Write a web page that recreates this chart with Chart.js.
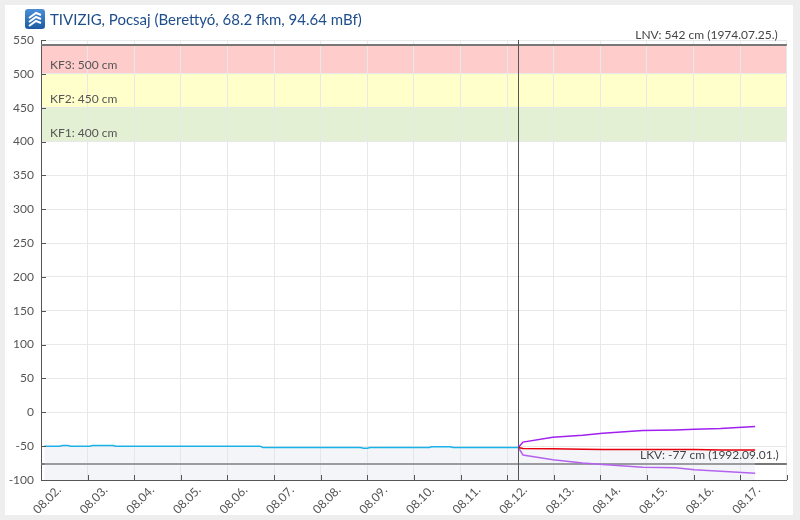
<!DOCTYPE html>
<html>
<head>
<meta charset="utf-8">
<script src="https://cdn.jsdelivr.net/npm/chart.js@4.4.1/dist/chart.umd.min.js"></script>
<style>
  html, body { margin: 0; padding: 0; background: #eeeeee; }
  #card { position: absolute; left: 5px; top: 5px; width: 788px; height: 510px; background: #fff; }
  #wrap { position: absolute; left: 0; top: 0; width: 800px; height: 520px; }
  #title { position: absolute; left: 25px; top: 9px; height: 20px; display: flex; align-items: center;
           font: 15px Lato, sans-serif; color: #1f4e8c; white-space: nowrap; }
  #title svg { margin-right: 5px; }
</style>
</head>
<body>
<div id="card"></div>
<div id="wrap"><canvas id="chart"></canvas></div>
<div id="title">
  <svg width="20" height="20" viewBox="0 0 20 20">
    <defs><linearGradient id="g" x1="0" y1="0" x2="0" y2="1">
      <stop offset="0" stop-color="#4a8fd6"/><stop offset="1" stop-color="#1d5aa3"/></linearGradient></defs>
    <rect width="20" height="20" rx="3" fill="url(#g)"/>
    <path d="M4 9 L11 4 L16 6" stroke="#fff" stroke-width="2" fill="none"/>
    <path d="M4 13 L11 8 L16 10" stroke="#fff" stroke-width="2" fill="none"/>
    <path d="M4 17 L11 12 L16 14" stroke="#fff" stroke-width="2" fill="none"/>
  </svg>
  <span>TIVIZIG, Pocsaj (Berettyó, 68.2 fkm, 94.64 mBf)</span>
</div>
<script>
// x values are days since 08.02. 00:00
const dayLabels = ['08.02.', '08.03.', '08.04.', '08.05.', '08.06.', '08.07.', '08.08.', '08.09.',
                   '08.10.', '08.11.', '08.12.', '08.13.', '08.14.', '08.15.', '08.16.', '08.17.'];

// measured water level (cm)
const measuredDays   = [0.07, 0.40, 0.46, 0.58, 0.64, 1.05, 1.10, 1.55, 1.60, 4.70, 4.76, 6.85, 6.92, 7.00, 7.06, 8.33, 8.38, 8.78, 8.84, 10.24];
const measuredLevels = [-50, -50, -49, -49, -50, -50, -49, -49, -50, -50, -52, -52, -53, -53, -52, -52, -51, -51, -52, -52];

// forecast (cm)
const forecastDays = [10.24, 10.34, 10.98, 11.62, 12.05, 12.91, 13.61, 14.02, 14.58, 15.32];
const forecastMid  = [-52, -53.5, -54, -54.5, -55, -55, -55, -55, -55.5, -55.5];
const forecastHigh = [-52, -44, -37, -34, -31, -27, -26, -25, -24, -21];
const forecastLow  = [-52, -63, -70, -75, -77, -81, -82, -85, -87, -90];

// alert levels
const bandLevels = [400, 450, 500];
const bandNames  = ['KF1: 400 cm', 'KF2: 450 cm', 'KF3: 500 cm'];
const lnvLevel = 542, lnvText = 'LNV: 542 cm (1974.07.25.)';
const lkvLevel = -77, lkvText = 'LKV: -77 cm (1992.09.01.)';
const nowDay = 10.24;

const bandColors = ['#e3f0d4', '#ffffcc', '#ffcccc'];
const textFont = '12px Lato, sans-serif';

const toPoints = (xs, ys) => xs.map((x, i) => ({ x: x, y: ys[i] }));

const levelPlugin = {
  id: 'levels',
  beforeDraw(chart) {
    const { ctx, chartArea: a, scales: { y } } = chart;
    ctx.save();
    bandLevels.forEach((lo, i) => {
      const hi = i + 1 < bandLevels.length ? bandLevels[i + 1] : lnvLevel;
      const top = y.getPixelForValue(hi), bot = y.getPixelForValue(lo);
      ctx.fillStyle = bandColors[i];
      ctx.fillRect(a.left, top, a.right - a.left, bot - top);
    });
    ctx.restore();
  },
  beforeDatasetsDraw(chart) {
    const { ctx, chartArea: a, scales: { x, y } } = chart;
    ctx.save();
    ctx.strokeStyle = '#777';
    ctx.lineWidth = 2;
    [lnvLevel, lkvLevel].forEach(v => {
      const py = Math.round(y.getPixelForValue(v));
      ctx.beginPath();
      ctx.moveTo(a.left, py);
      ctx.lineTo(a.right, py);
      ctx.stroke();
    });
    ctx.restore();
  },
  afterDatasetsDraw(chart) {
    const { ctx, chartArea: a, scales: { x, y } } = chart;
    ctx.save();
    // now line
    const nx = Math.round(x.getPixelForValue(nowDay)) + 0.5;
    ctx.strokeStyle = '#555';
    ctx.lineWidth = 1;
    ctx.beginPath();
    ctx.moveTo(nx, a.top);
    ctx.lineTo(nx, a.bottom);
    ctx.stroke();
    // inward tick marks
    ctx.beginPath();
    y.ticks.forEach(t => {
      const py = Math.round(y.getPixelForValue(t.value)) + 0.5;
      ctx.moveTo(a.left, py);
      ctx.lineTo(a.left + 5, py);
    });
    x.ticks.forEach(t => {
      const px = Math.round(x.getPixelForValue(t.value)) + 0.5;
      ctx.moveTo(px, a.bottom);
      ctx.lineTo(px, a.bottom - 5);
    });
    ctx.stroke();
    // labels
    ctx.font = textFont;
    ctx.fillStyle = '#555';
    ctx.textAlign = 'left';
    ctx.textBaseline = 'alphabetic';
    bandLevels.forEach((v, i) => {
      ctx.fillText(bandNames[i], a.left + 9, y.getPixelForValue(v) - 5);
    });
    ctx.textAlign = 'right';
    ctx.fillStyle = '#444';
    ctx.fillText(lnvText, a.right - 9, y.getPixelForValue(lnvLevel) - 6);
    ctx.fillText(lkvText, a.right - 8, y.getPixelForValue(lkvLevel) - 5);
    ctx.restore();
  }
};

const fillColor = 'rgba(220, 225, 238, 0.35)';

new Chart(document.getElementById('chart').getContext('2d'), {
  type: 'line',
  data: {
    datasets: [
      { data: toPoints(measuredDays, measuredLevels), borderColor: '#1ab2e8', borderWidth: 1.5,
        fill: 'start', backgroundColor: fillColor },
      { data: toPoints(forecastDays, forecastMid), borderColor: '#e8000e', borderWidth: 1.5,
        fill: 'start', backgroundColor: fillColor },
      { data: toPoints(forecastDays, forecastHigh), borderColor: '#a020f0', borderWidth: 1.5, fill: false },
      { data: toPoints(forecastDays, forecastLow), borderColor: '#a020f0', borderWidth: 1.5, fill: false }
    ]
  },
  options: {
    responsive: true,
    maintainAspectRatio: false,
    animation: false,
    layout: { padding: { top: 40, right: 10, bottom: 6, left: 0 } },
    elements: { point: { radius: 0 }, line: { tension: 0 } },
    plugins: { legend: { display: false }, tooltip: { enabled: false } },
    scales: {
      x: {
        type: 'linear',
        min: 0,
        max: 16,
        afterFit: s => { s.height = 34; },
        grid: { color: '#e8e8e8', drawTicks: false },
        border: { color: '#555' },
        ticks: {
          stepSize: 1,
          autoSkip: false,
          minRotation: 45,
          maxRotation: 45,
          labelOffset: 18,
          padding: 3,
          color: '#555',
          font: { family: 'Lato, sans-serif', size: 12 },
          callback: v => dayLabels[v] || ''
        }
      },
      y: {
        type: 'linear',
        min: -100,
        max: 550,
        afterFit: s => { s.width = 41; },
        grid: { color: '#e8e8e8', drawTicks: false },
        border: { color: '#555' },
        ticks: {
          stepSize: 50,
          padding: 7,
          color: '#555',
          font: { family: 'Lato, sans-serif', size: 12 }
        }
      }
    }
  },
  plugins: [levelPlugin]
});
</script>
</body>
</html>
